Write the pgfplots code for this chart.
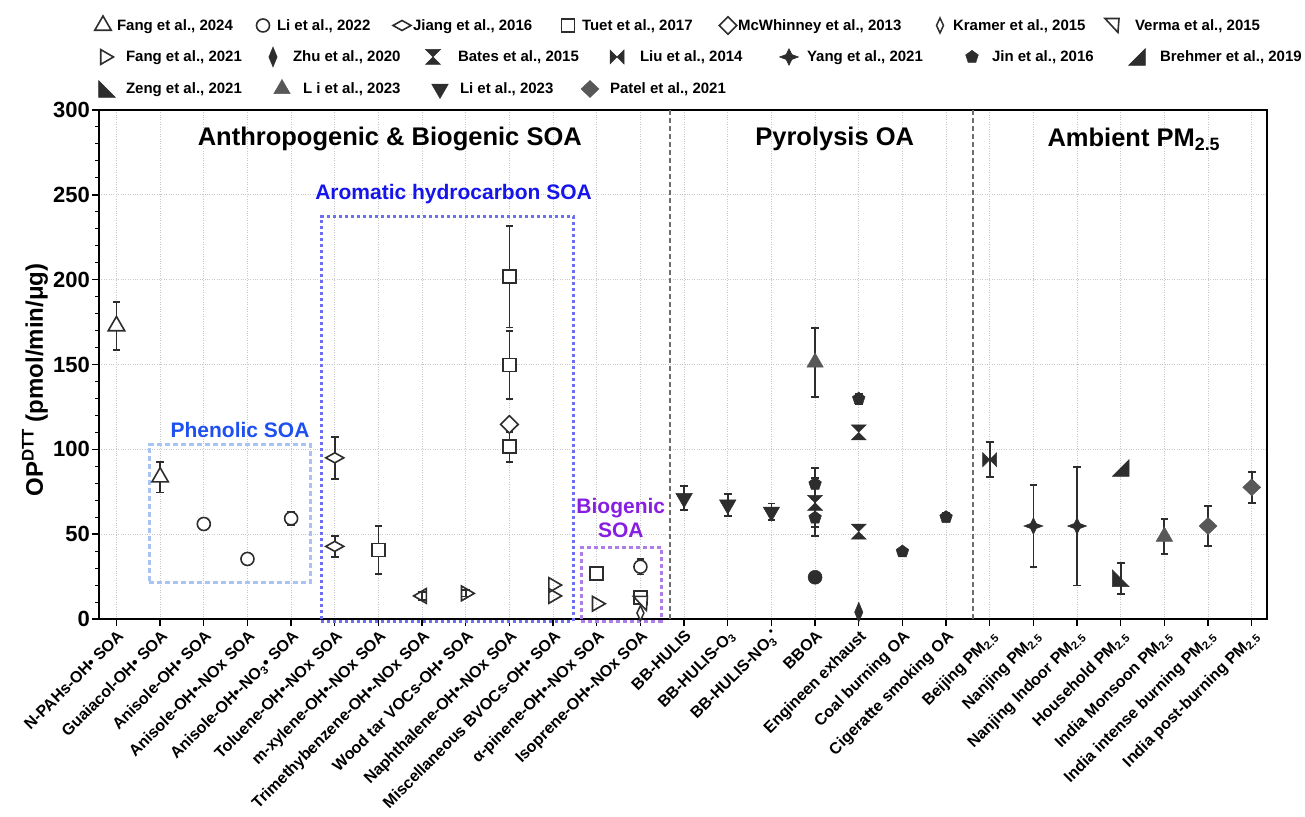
\documentclass[border=0pt]{standalone}
\usepackage{pgfplots}
\pgfplotsset{compat=1.18}
\usepackage{fontspec}
\setmainfont{Liberation Sans}
\usetikzlibrary{plotmarks}

\definecolor{mk}{RGB}{45,45,45}
\definecolor{mkgray}{RGB}{88,88,88}
\definecolor{phenbox}{RGB}{170,195,245}
\definecolor{phentext}{RGB}{30,80,240}
\definecolor{arombox}{RGB}{110,110,240}
\definecolor{aromtext}{RGB}{20,20,235}
\definecolor{biobox}{RGB}{175,125,232}
\definecolor{biotext}{RGB}{135,30,225}
\definecolor{sepc}{RGB}{110,110,110}

\pgfdeclareplotmark{hourglass}{%
\pgfpathmoveto{\pgfqpoint{-\pgfplotmarksize}{\pgfplotmarksize}}%
\pgfpathlineto{\pgfqpoint{\pgfplotmarksize}{\pgfplotmarksize}}%
\pgfpathlineto{\pgfqpoint{-\pgfplotmarksize}{-\pgfplotmarksize}}%
\pgfpathlineto{\pgfqpoint{\pgfplotmarksize}{-\pgfplotmarksize}}%
\pgfpathclose\pgfusepathqfillstroke}
\pgfdeclareplotmark{bowtie}{%
\pgfpathmoveto{\pgfqpoint{-\pgfplotmarksize}{\pgfplotmarksize}}%
\pgfpathlineto{\pgfqpoint{-\pgfplotmarksize}{-\pgfplotmarksize}}%
\pgfpathlineto{\pgfqpoint{\pgfplotmarksize}{\pgfplotmarksize}}%
\pgfpathlineto{\pgfqpoint{\pgfplotmarksize}{-\pgfplotmarksize}}%
\pgfpathclose\pgfusepathqfillstroke}
\pgfdeclareplotmark{star4}{%
\pgfpathmoveto{\pgfqpoint{0pt}{\pgfplotmarksize}}%
\pgfpathlineto{\pgfqpoint{.3\pgfplotmarksize}{.3\pgfplotmarksize}}%
\pgfpathlineto{\pgfqpoint{\pgfplotmarksize}{0pt}}%
\pgfpathlineto{\pgfqpoint{.3\pgfplotmarksize}{-.3\pgfplotmarksize}}%
\pgfpathlineto{\pgfqpoint{0pt}{-\pgfplotmarksize}}%
\pgfpathlineto{\pgfqpoint{-.3\pgfplotmarksize}{-.3\pgfplotmarksize}}%
\pgfpathlineto{\pgfqpoint{-\pgfplotmarksize}{0pt}}%
\pgfpathlineto{\pgfqpoint{-.3\pgfplotmarksize}{.3\pgfplotmarksize}}%
\pgfpathclose\pgfusepathqfillstroke}
\pgfdeclareplotmark{brehmer}{%
\pgfpathmoveto{\pgfqpoint{-\pgfplotmarksize}{-\pgfplotmarksize}}%
\pgfpathlineto{\pgfqpoint{\pgfplotmarksize}{-\pgfplotmarksize}}%
\pgfpathlineto{\pgfqpoint{\pgfplotmarksize}{\pgfplotmarksize}}%
\pgfpathclose\pgfusepathqfillstroke}
\pgfdeclareplotmark{zeng}{%
\pgfpathmoveto{\pgfqpoint{-\pgfplotmarksize}{\pgfplotmarksize}}%
\pgfpathlineto{\pgfqpoint{-\pgfplotmarksize}{-\pgfplotmarksize}}%
\pgfpathlineto{\pgfqpoint{\pgfplotmarksize}{-\pgfplotmarksize}}%
\pgfpathclose\pgfusepathqfillstroke}
\pgfdeclareplotmark{verma}{%
\pgfpathmoveto{\pgfqpoint{-\pgfplotmarksize}{\pgfplotmarksize}}%
\pgfpathlineto{\pgfqpoint{\pgfplotmarksize}{\pgfplotmarksize}}%
\pgfpathlineto{\pgfqpoint{.85\pgfplotmarksize}{-\pgfplotmarksize}}%
\pgfpathclose\pgfusepathqfillstroke}

\tikzset{
 fang24/.style={only marks, mark=triangle*, mark size=9.5pt, mark options={fill=white, draw=mk, line width=1.6pt, solid}},
 li22/.style={only marks, mark=*, mark size=6.5pt, mark options={fill=white, draw=mk, line width=1.6pt, solid}},
 jiang/.style={only marks, mark=diamond*, mark size=5pt, mark options={fill=white, draw=mk, line width=1.6pt, solid, xscale=2.4}},
 tuet/.style={only marks, mark=square*, mark size=6.5pt, mark options={fill=white, draw=mk, line width=1.6pt, solid}},
 mcw/.style={only marks, mark=diamond*, mark size=8.7pt, mark options={fill=white, draw=mk, line width=1.6pt, solid, xscale=1.35}},
 kramer/.style={only marks, mark=diamond*, mark size=7.5pt, mark options={fill=white, draw=mk, line width=1.5pt, solid, xscale=0.62}},
 verma/.style={only marks, mark=verma, mark size=7pt, mark options={fill=white, draw=mk, line width=1.6pt, solid}},
 fang21/.style={only marks, mark=triangle, mark size=8.5pt, mark options={draw=mk, line width=1.6pt, solid, rotate=-90}},
 fang21l/.style={only marks, mark=triangle, mark size=8.5pt, mark options={draw=mk, line width=1.6pt, solid, rotate=90}},
 zhu/.style={only marks, mark=diamond*, mark size=10pt, mark options={fill=mk, draw=mk, line width=0.5pt, solid, xscale=0.55}},
 bates/.style={only marks, mark=hourglass, mark size=7.5pt, mark options={fill=mk, draw=mk, line width=0.5pt, solid}},
 liu/.style={only marks, mark=bowtie, mark size=7pt, mark options={fill=mk, draw=mk, line width=0.5pt, solid}},
 yang/.style={only marks, mark=star4, mark size=8.3pt, mark options={fill=mk, draw=mk, line width=0.5pt, solid, xscale=1.15}},
 jin/.style={only marks, mark=pentagon*, mark size=6.6pt, mark options={fill=mk, draw=mk, line width=0.5pt, solid}},
 brehmer/.style={only marks, mark=brehmer, mark size=8.3pt, mark options={fill=mk, draw=mk, line width=0.5pt, solid}},
 zeng/.style={only marks, mark=zeng, mark size=8.3pt, mark options={fill=mk, draw=mk, line width=0.5pt, solid}},
 lii23/.style={only marks, mark=triangle*, mark size=9.5pt, mark options={fill=mkgray, draw=mkgray, line width=0.5pt, solid}},
 li23/.style={only marks, mark=triangle*, mark size=9.5pt, mark options={fill=mk, draw=mk, line width=0.5pt, solid, rotate=180}},
 patel/.style={only marks, mark=diamond*, mark size=8.5pt, mark options={fill=mkgray, draw=mkgray, line width=0.5pt, solid, xscale=1.4}},
 dotm/.style={only marks, mark=*, mark size=7pt, mark options={fill=mk, draw=mk, line width=0.5pt, solid}},
}

\pgfplotsset{
 errs/.style={error bars/y dir=both, error bars/y explicit,
   error bars/error bar style={line width=1.8pt, draw=mk, solid},
   error bars/error mark options={rotate=90, mark size=3.8pt, line width=1.8pt, draw=mk, solid}},
 legendaxis/.style={at={(0pt,0pt)}, anchor=south west, scale only axis,
   width=1305pt, height=816pt, xmin=0, xmax=1305, ymin=0, ymax=816, hide axis,
   legend columns=-1, legend cell align=left,
   legend style={draw=none, fill=none, inner sep=0pt, outer sep=0pt, row sep=0pt, column sep=0pt,
     font=\fontsize{15}{15}\selectfont\bfseries, nodes={inner sep=0pt, outer sep=0pt},
     /tikz/every odd column/.style={column sep=0pt}, /tikz/every even column/.style={column sep=0pt},
     anchor=west},
   legend image code/.code={\path[draw=none, fill=none] (0pt,-12pt) rectangle (20pt,12pt);
     \draw[mark repeat=2,mark phase=2,##1] plot coordinates {(0pt,0pt) (10pt,0pt) (20pt,0pt)};}},
}

\begin{document}
\begin{tikzpicture}
\useasboundingbox (0,0) rectangle (1305pt,816pt);

\begin{axis}[
  at={(99pt,197pt)}, anchor=south west, scale only axis,
  width=1168pt, height=509pt,
  xmin=-0.4, xmax=26.35, ymin=0, ymax=300,
  clip=false,
  xtick={0,...,26},
  xticklabels={{N-PAHs-OH• SOA},{Guaiacol-OH• SOA},{Anisole-OH• SOA},{Anisole-OH•-NOx SOA},{Anisole-OH•-NO\textsubscript{3}• SOA},{Toluene-OH•-NOx SOA},{m-xylene-OH•-NOx SOA},{Trimethybenzene-OH•-NOx SOA},{Wood tar VOCs-OH• SOA},{Naphthalene-OH•-NOx SOA},{Miscellaneous BVOCs-OH• SOA},{α-pinene-OH•-NOx SOA},{Isoprene-OH•-NOx SOA},{BB-HULIS},{BB-HULIS-O\textsubscript{3}},{BB-HULIS-NO\textsubscript{3}\textsuperscript{•}},{BBOA},{Engineen exhaust},{Coal burning OA},{Cigeratte smoking OA},{Beijing PM\textsubscript{2.5}},{Nanjing PM\textsubscript{2.5}},{Nanjing Indoor PM\textsubscript{2.5}},{Household PM\textsubscript{2.5}},{India Monsoon PM\textsubscript{2.5}},{India intense burning PM\textsubscript{2.5}},{India post-burning PM\textsubscript{2.5}}},
  xticklabel style={font=\fontsize{16}{16}\selectfont\bfseries, rotate=45, anchor=north east, inner sep=2pt},
  ytick={0,50,...,300}, minor y tick num=4,
  yticklabel style={font=\fontsize{22}{22}\selectfont\bfseries, inner sep=2pt},
  /pgf/number format/assume math mode=true,
  tick pos=left, tick align=outside,
  major tick length=7pt, minor tick length=4pt,
  every tick/.style={black, line width=1.4pt},
  every minor tick/.style={black, line width=1pt},
  grid=major, major grid style={dotted, black!22, line width=0.8pt},
  axis line style={line width=1.6pt, black},
  ylabel={OP\textsuperscript{DTT} (pmol/min/μg)},
  every axis y label/.style={at={(axis description cs:-0.0548,0.4695)}, rotate=90, anchor=center, font=\fontsize{24}{24}\selectfont\bfseries},
]
% separators
\addplot[forget plot, mark=none, sepc, line width=2pt, dash pattern=on 5pt off 3pt] coordinates {(12.68,0) (12.68,300)};
\addplot[forget plot, mark=none, sepc, line width=2pt, dash pattern=on 5pt off 3pt] coordinates {(19.62,0) (19.62,300)};
% group boxes
\addplot[forget plot, mark=none, phenbox, line width=3pt, dash pattern=on 5pt off 3pt] coordinates {(0.75,21.4) (4.44,21.4) (4.44,102.8) (0.75,102.8) (0.75,21.4)};
\addplot[forget plot, mark=none, arombox, line width=3pt, dash pattern=on 3pt off 3pt] coordinates {(4.69,-1.5) (10.46,-1.5) (10.46,237) (4.69,237) (4.69,-1.5)};
\addplot[forget plot, mark=none, biobox, line width=3pt, dash pattern=on 4pt off 3pt] coordinates {(10.65,-1.5) (12.48,-1.5) (12.48,42.1) (10.65,42.1) (10.65,-1.5)};

% labels
\node[font=\fontsize{25.5}{25.5}\selectfont\bfseries] at (axis cs:6.26,282.9) {Anthropogenic \& Biogenic SOA};
\node[font=\fontsize{25.5}{25.5}\selectfont\bfseries] at (axis cs:16.45,282.9) {Pyrolysis OA};
\node[font=\fontsize{25.5}{25.5}\selectfont\bfseries] at (axis cs:23.3,282.9) {Ambient PM\textsubscript{2.5}};
\node[font=\fontsize{21}{21}\selectfont\bfseries, text=aromtext] at (axis cs:7.72,250.4) {Aromatic hydrocarbon SOA};
\node[font=\fontsize{21}{21}\selectfont\bfseries, text=phentext] at (axis cs:2.83,111.6) {Phenolic SOA};
\node[font=\fontsize{21}{24}\selectfont\bfseries, text=biotext, align=center] at (axis cs:11.55,59.5) {Biogenic\\SOA};

% data: Fang et al., 2024
\addplot[fang24, errs] coordinates {(0,172.7) +- (0,14.1) (1,83.6) +- (0,9.1)};
% Li et al., 2022
\addplot[li22, errs, forget plot] coordinates {(4,59.3) +- (0,4) (12,30.8) +- (0,4.6)};
\addplot[li22, forget plot] coordinates {(2,56.0) (3,35.4)};
% Jiang et al., 2016
\addplot[jiang, errs, forget plot] coordinates {(5,95.0) +- (0,12.3) (5,42.8) +- (0,6.1)};
% Tuet et al., 2017
\addplot[tuet, errs, forget plot] coordinates {(6,40.7) +- (0,14.2) (9,201.8) +- (0,30) (9,149.8) +- (0,20.1) (9,101.5) +- (0,8.8)};
\addplot[tuet, forget plot] coordinates {(11,26.9) (12,12.8)};
% McWhinney et al., 2013
\addplot[mcw, forget plot] coordinates {(9,114.7)};
% Kramer et al., 2015
\addplot[kramer, forget plot] coordinates {(12,3.5)};
% Verma et al., 2015
\addplot[verma, forget plot] coordinates {(12,9.2)};
% Fang et al., 2021
\addplot[fang21, errs, forget plot] coordinates {(8,15.1) +- (0,1.8)};
\addplot[fang21l, errs, forget plot] coordinates {(7,13.6) +- (0,2.2)};
\addplot[fang21, forget plot] coordinates {(10,20.0) (10,13.6) (11,9.0)};
% Zhu et al., 2020
\addplot[zhu, forget plot] coordinates {(17,4.0)};
% Bates et al., 2015
\addplot[bates, errs, forget plot] coordinates {(16,68.5) +- (0,14.5)};
\addplot[bates, forget plot] coordinates {(17,110.0) (17,51.5)};
% Liu et al., 2014
\addplot[liu, errs, forget plot] coordinates {(20,93.9) +- (0,10.4)};
% Yang et al., 2021
\addplot[yang, errs, forget plot] coordinates {(21,54.8) +- (0,24) (22,54.8) +- (0,35)};
% Jin et al., 2016
\addplot[jin, errs, forget plot] coordinates {(16,79.6) +- (0,9.2) (16,59.7) +- (0,10.8) (17,129.8) +- (0,3) (19,60.0) +- (0,2.5)};
\addplot[jin, forget plot] coordinates {(18,39.7)};
% Brehmer et al., 2019
\addplot[brehmer, forget plot] coordinates {(23,89.0)};
% Zeng et al., 2021
\addplot[zeng, errs, forget plot] coordinates {(23,24.0) +- (0,9.1)};
% L i et al., 2023
\addplot[lii23, errs, forget plot] coordinates {(16,151.2) +- (0,20.3) (24,48.6) +- (0,10.4)};
% Li et al., 2023
\addplot[li23, errs, forget plot] coordinates {(13,71.2) +- (0,7) (14,67.4) +- (0,6.5) (15,63.2) +- (0,4.9)};
% Patel et al., 2021
\addplot[patel, errs, forget plot] coordinates {(25,54.8) +- (0,12) (26,77.6) +- (0,9.2)};
% unlabelled filled circle
\addplot[dotm, forget plot] coordinates {(16,24.6)};
\end{axis}

% legend row 1
\begin{axis}[legendaxis, legend style={at={(axis cs:93,790.5)}}]
\addlegendimage{fang24}\addlegendentry{\makebox[140pt][l]{\hspace{4pt}Fang et al., 2024}}
\addlegendimage{li22}\addlegendentry{\makebox[119pt][l]{\hspace{4pt}Li et al., 2022}}
\addlegendimage{jiang}\addlegendentry{\makebox[146pt][l]{\hspace{1pt}Jiang et al., 2016}}
\addlegendimage{tuet}\addlegendentry{\makebox[140pt][l]{\hspace{4pt}Tuet et al., 2017}}
\addlegendimage{mcw}\addlegendentry{\makebox[192pt][l]{\hspace{0pt}McWhinney et al., 2013}}
\addlegendimage{kramer}\addlegendentry{\makebox[152pt][l]{\hspace{3pt}Kramer et al., 2015}}
\addlegendimage{verma}\addlegendentry{\hspace{13pt}Verma et al., 2015}
\end{axis}
% legend row 2
\begin{axis}[legendaxis, legend style={at={(axis cs:95,759)}}]
\addlegendimage{fang21}\addlegendentry{\makebox[148pt][l]{\hspace{11pt}Fang et al., 2021}}
\addlegendimage{zhu}\addlegendentry{\makebox[140pt][l]{\hspace{10pt}Zhu et al., 2020}}
\addlegendimage{bates}\addlegendentry{\makebox[164pt][l]{\hspace{15pt}Bates et al., 2015}}
\addlegendimage{liu}\addlegendentry{\makebox[152pt][l]{\hspace{13pt}Liu et al., 2014}}
\addlegendimage{yang}\addlegendentry{\makebox[163pt][l]{\hspace{8pt}Yang et al., 2021}}
\addlegendimage{jin}\addlegendentry{\makebox[145pt][l]{\hspace{10pt}Jin et al., 2016}}
\addlegendimage{brehmer}\addlegendentry{\hspace{13pt}Brehmer et al., 2019}
\end{axis}
% legend row 3
\begin{axis}[legendaxis, legend style={at={(axis cs:97,727)}}]
\addlegendimage{zeng}\addlegendentry{\makebox[155pt][l]{\hspace{9pt}Zeng et al., 2021}}
\addlegendimage{lii23}\addlegendentry{\makebox[138pt][l]{\hspace{11pt}L i et al., 2023}}
\addlegendimage{li23}\addlegendentry{\makebox[130pt][l]{\hspace{10pt}Li et al., 2023}}
\addlegendimage{patel}\addlegendentry{\hspace{10pt}Patel et al., 2021}
\end{axis}
\end{tikzpicture}
\end{document}
